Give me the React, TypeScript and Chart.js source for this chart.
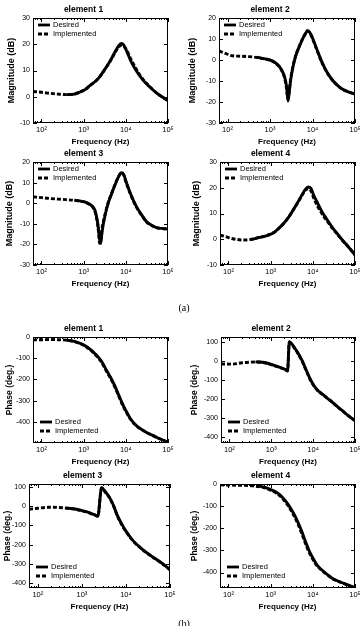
import React, { useEffect, useRef } from "react";
import { Chart, registerables } from "chart.js";

Chart.register(...registerables);

const SANS = "'Liberation Sans', Arial, Helvetica, sans-serif";
const SERIF = "'Liberation Serif', 'Times New Roman', serif";

// ---------- shared axis data ----------
const xTickValues = [100, 1000, 10000, 100000];
const xTickLabels = ["10²", "10³", "10⁴", "10⁵"];
const xMin = 63;
const xMax = 100000;
const legendLabels = ["Desired", "Implemented"];
const magLabel = "Magnitude (dB)";
const phaseLabel = "Phase (deg.)";
const freqLabel = "Frequency (Hz)";

// ---------- (a) magnitude, element 1 ----------
const freqMag1 = [63, 100, 160, 250, 400, 600, 820, 1100, 1400, 2000, 2450, 3200, 4200, 5300, 6600, 7900, 9000, 10500, 13000, 18000, 25000, 37000, 55000, 75000, 100000];
const magDesired1 = [null, null, null, null, 0.8, 1.0, 1.8, 2.8, 4.2, 6.2, 7.8, 10.5, 13.5, 16.5, 19.2, 20.3, 19.6, 17.3, 13.8, 9.7, 6.5, 3.7, 1.3, -0.2, -1.5];
const magImplemented1 = [2.0, 1.7, 1.3, 1.0, 0.8, 1.0, 1.8, 2.8, 4.2, 6.2, 7.8, 10.5, 13.3, 16.2, 18.8, 19.6, 19.2, 17.8, 14.5, 10.3, 6.8, 3.8, 1.3, -0.2, -1.5];
const yTicksMag1 = [-10, 0, 10, 20, 30];

// ---------- (a) magnitude, element 2 ----------
const freqMag2 = [63, 90, 130, 200, 320, 500, 790, 1100, 1350, 1650, 1950, 2200, 2450, 2650, 2850, 3070, 3500, 4000, 4800, 5750, 6700, 7550, 8600, 10000, 13000, 17000, 22000, 29000, 40000, 50000, 70000, 100000];
const magDesired2 = [null, null, null, null, null, 1.3, 0.5, -0.3, -1.4, -3.0, -5.4, -8.0, -12.5, -19.5, -15.0, -9.4, -3.0, 1.7, 6.0, 9.7, 12.3, 13.8, 13.2, 10.5, 4.5, -1.4, -5.8, -9.4, -12.3, -13.8, -15.2, -16.2];
const magImplemented2 = [4.3, 3.1, 2.0, 1.8, 1.6, 1.2, 0.4, -0.4, -1.5, -3.2, -5.6, -8.5, -13.5, -18.5, -14.0, -8.8, -2.6, 2.0, 6.2, 9.8, 12.4, 14.0, 13.0, 10.2, 4.2, -1.6, -6.0, -9.5, -12.4, -13.9, -15.2, -16.2];
const yTicksMag2 = [-30, -20, -10, 0, 10, 20];

// ---------- (a) magnitude, element 3 ----------
const freqMag3 = [63, 100, 155, 250, 390, 600, 800, 1100, 1400, 1650, 1850, 2100, 2250, 2400, 2550, 2700, 2900, 3300, 3800, 4600, 5500, 6600, 7800, 8900, 10200, 13000, 18000, 24000, 31000, 42000, 53000, 75000, 100000];
const magDesired3 = [null, null, null, null, null, 1.5, 1.1, 0.5, -0.5, -1.7, -3.4, -8.2, -12.5, -17.9, -19.5, -15.0, -10.6, -5.0, -0.2, 4.5, 8.7, 12.5, 14.8, 14.0, 10.3, 4.5, -1.8, -5.8, -9.0, -10.8, -11.8, -12.3, -12.5];
const magImplemented3 = [3.1, 2.7, 2.3, 2.0, 1.7, 1.4, 1.0, 0.4, -0.7, -2.0, -4.0, -9.0, -14.0, -19.5, -17.5, -13.0, -9.5, -4.5, 0.2, 4.8, 8.9, 12.6, 14.6, 13.7, 10.0, 4.2, -2.0, -6.0, -9.1, -10.9, -11.9, -12.3, -12.5];
const yTicksMag3 = [-30, -20, -10, 0, 10, 20];

// ---------- (a) magnitude, element 4 ----------
const freqMag4 = [63, 90, 120, 180, 250, 360, 510, 700, 900, 1200, 1550, 2000, 2700, 3600, 4700, 5700, 6600, 7800, 9000, 10500, 13000, 16600, 22000, 29000, 38000, 50000, 70000, 100000];
const magDesired4 = [null, null, null, null, null, -0.1, 0.6, 1.1, 1.6, 2.6, 4.2, 6.0, 8.7, 11.9, 15.2, 17.6, 19.3, 20.3, 19.8, 17.1, 14.0, 10.6, 7.5, 4.6, 2.2, -0.3, -3.0, -6.1];
const magImplemented4 = [1.6, 0.9, 0.3, -0.2, -0.3, 0.0, 0.6, 1.1, 1.8, 2.6, 4.2, 6.0, 8.7, 11.9, 15.0, 17.4, 19.0, 19.6, 18.8, 16.0, 12.8, 9.8, 7.0, 4.3, 2.0, -0.4, -3.0, -6.1];
const yTicksMag4 = [-10, 0, 10, 20, 30];

// ---------- (b) phase, element 1 ----------
const freqPh1 = [63, 100, 155, 250, 390, 660, 1140, 1950, 2700, 3400, 4400, 5500, 7000, 8800, 11000, 13000, 18000, 24000, 31000, 42000, 53000, 75000, 100000];
const phDesired1 = [null, null, null, null, -15, -23, -44, -83, -117, -153, -192, -231, -280, -325, -362, -387, -419, -437, -450, -463, -473, -486, -497];
const phImplemented1 = [-14, -13, -12, -13, -15, -24, -46, -86, -121, -158, -197, -236, -285, -330, -365, -389, -420, -437, -450, -463, -473, -486, -497];
const yTicksPh1 = [-400, -300, -200, -100, 0];

// ---------- (b) phase, element 2 ----------
const freqPh2 = [63, 115, 200, 300, 420, 730, 1250, 1800, 2200, 2450, 2700, 3200, 3800, 4600, 5500, 6300, 7250, 8500, 10500, 13000, 16600, 22000, 29000, 38000, 50000, 70000, 100000];
const phDesired2 = [null, null, null, null, -5, -10, -26, -38, -46, -52, 100, 85, 61, 32, 0, -30, -61, -95, -130, -155, -174, -196, -217, -239, -261, -288, -313];
const phImplemented2 = [-16, -17, -10, -7, -6, -11, -27, -39, -47, -53, 98, 82, 58, 29, -3, -33, -64, -98, -132, -157, -175, -197, -218, -240, -262, -288, -313];
const yTicksPh2 = [-400, -300, -200, -100, 0, 100];

// ---------- (b) phase, element 3 ----------
const freqPh3 = [63, 100, 175, 300, 430, 700, 1000, 1400, 1700, 2000, 2300, 2800, 3400, 4300, 5300, 6500, 8000, 9500, 12000, 15000, 20000, 27000, 40000, 60000, 80000, 100000];
const phDesired3 = [null, null, null, null, -9, -15, -23, -32, -40, -46, -52, 96, 75, 43, 0, -52, -92, -122, -155, -183, -210, -235, -263, -290, -312, -330];
const phImplemented3 = [-16, -11, -6, -7, -10, -16, -24, -33, -41, -47, -53, 94, 72, 40, -3, -56, -95, -124, -157, -184, -211, -236, -264, -291, -313, -330];
const yTicksPh3 = [-400, -300, -200, -100, 0, 100];

// ---------- (b) phase, element 4 ----------
const freqPh4 = [63, 120, 200, 300, 450, 620, 800, 1000, 1400, 1800, 2400, 3100, 3800, 4500, 5500, 6600, 8000, 9800, 12500, 17000, 23000, 30000, 45000, 63000, 100000];
const phDesired4 = [null, null, null, null, -9, -12, -18, -25, -38, -55, -83, -115, -145, -175, -215, -257, -297, -331, -365, -391, -412, -428, -443, -454, -469];
const phImplemented4 = [-4, -5, -6, -7, -10, -14, -20, -28, -42, -60, -89, -122, -153, -184, -225, -266, -305, -337, -369, -393, -413, -429, -444, -455, -469];
const yTicksPh4 = [-400, -300, -200, -100, 0];

// ---------- layout ----------
const YW = 34; // y-axis box width
const TITLE_H = 17; // title block height
const XH = 24; // x-axis box height

type PanelCfg = {
  title: string;
  yLabel: string;
  yLabelSize: number;
  freqs: number[];
  desired: (number | null)[];
  implemented: (number | null)[];
  yMin: number;
  yMax: number;
  yTicks: number[];
  frame: [number, number, number, number];
  labelGap: number;
  legend: "top" | "bottom";
};

const panels: PanelCfg[] = [
  { title: "element 1", yLabel: magLabel, yLabelSize: 9, freqs: freqMag1, desired: magDesired1, implemented: magImplemented1, yMin: -10, yMax: 30, yTicks: yTicksMag1, frame: [33, 18, 168, 123], labelGap: 21, legend: "top" },
  { title: "element 2", yLabel: magLabel, yLabelSize: 9, freqs: freqMag2, desired: magDesired2, implemented: magImplemented2, yMin: -30, yMax: 20, yTicks: yTicksMag2, frame: [219, 18, 355, 123], labelGap: 26, legend: "top" },
  { title: "element 3", yLabel: magLabel, yLabelSize: 9, freqs: freqMag3, desired: magDesired3, implemented: magImplemented3, yMin: -30, yMax: 20, yTicks: yTicksMag3, frame: [33, 162, 168, 265], labelGap: 23, legend: "top" },
  { title: "element 4", yLabel: magLabel, yLabelSize: 9, freqs: freqMag4, desired: magDesired4, implemented: magImplemented4, yMin: -10, yMax: 30, yTicks: yTicksMag4, frame: [220, 162, 355, 265], labelGap: 23, legend: "top" },
  { title: "element 1", yLabel: phaseLabel, yLabelSize: 8.5, freqs: freqPh1, desired: phDesired1, implemented: phImplemented1, yMin: -500, yMax: 0, yTicks: yTicksPh1, frame: [33, 337, 168, 443], labelGap: 23, legend: "bottom" },
  { title: "element 2", yLabel: phaseLabel, yLabelSize: 8.5, freqs: freqPh2, desired: phDesired2, implemented: phImplemented2, yMin: -430, yMax: 125, yTicks: yTicksPh2, frame: [221, 337, 355, 443], labelGap: 26, legend: "bottom" },
  { title: "element 3", yLabel: phaseLabel, yLabelSize: 8.5, freqs: freqPh3, desired: phDesired3, implemented: phImplemented3, yMin: -425, yMax: 115, yTicks: yTicksPh3, frame: [29, 484, 170, 588], labelGap: 21, legend: "bottom" },
  { title: "element 4", yLabel: phaseLabel, yLabelSize: 8.5, freqs: freqPh4, desired: phDesired4, implemented: phImplemented4, yMin: -470, yMax: 0, yTicks: yTicksPh4, frame: [220, 484, 355, 588], labelGap: 25, legend: "bottom" },
];

const framePlugin = {
  id: "frameLegend",
  afterDraw(chart: any, _args: any, opts: any) {
    const { ctx, chartArea: a, scales } = chart;
    const xs = scales.x;
    const ys = scales.y;
    ctx.save();
    ctx.strokeStyle = "#000";
    ctx.lineWidth = 1;
    ctx.setLineDash([]);
    ctx.strokeRect(a.left + 0.5, a.top + 0.5, a.right - a.left - 1, a.bottom - a.top - 1);
    ctx.beginPath();
    for (let k = 1; k <= 5; k++) {
      for (let m = 1; m <= 9; m++) {
        const v = m * Math.pow(10, k);
        if (v < xs.min || v > xs.max) continue;
        const px = Math.round(xs.getPixelForValue(v)) + 0.5;
        const len = m === 1 ? 4 : 2;
        ctx.moveTo(px, a.bottom);
        ctx.lineTo(px, a.bottom - len);
        ctx.moveTo(px, a.top);
        ctx.lineTo(px, a.top + len);
      }
    }
    (opts.yTicks || []).forEach((v: number) => {
      const py = Math.round(ys.getPixelForValue(v)) + 0.5;
      ctx.moveTo(a.left, py);
      ctx.lineTo(a.left + 4, py);
      ctx.moveTo(a.right, py);
      ctx.lineTo(a.right - 4, py);
    });
    ctx.stroke();

    // legend
    const top = opts.legend === "top";
    const x0 = a.left + (top ? 5 : 7);
    const rows = top ? [a.top + 7, a.top + 16] : [a.bottom - 21, a.bottom - 12];
    ctx.font = `7.5px ${SANS}`;
    ctx.fillStyle = "#000";
    ctx.textBaseline = "middle";
    ctx.textAlign = "left";
    rows.forEach((ry: number, i: number) => {
      ctx.beginPath();
      ctx.lineWidth = 2.8;
      ctx.setLineDash(i === 0 ? [] : [4, 2]);
      ctx.moveTo(x0, ry);
      ctx.lineTo(x0 + 12, ry);
      ctx.stroke();
      ctx.setLineDash([]);
      ctx.fillText(legendLabels[i], x0 + 15, ry);
    });
    ctx.restore();
  },
};

function Panel({ p }: { p: PanelCfg }) {
  const ref = useRef<HTMLCanvasElement>(null);
  const [L, T, R, B] = p.frame;
  const width = YW * 2 + (R - L);
  const height = TITLE_H + (B - T) + XH;

  useEffect(() => {
    const toPts = (ys: (number | null)[]) => p.freqs.map((f, i) => ({ x: f, y: ys[i] }));
    const chart = new Chart(ref.current as HTMLCanvasElement, {
      type: "line",
      data: {
        datasets: [
          {
            label: legendLabels[0],
            data: toPts(p.desired) as any,
            borderColor: "#000",
            borderWidth: 2.9,
            pointRadius: 0,
            cubicInterpolationMode: "monotone",
            spanGaps: false,
          },
          {
            label: legendLabels[1],
            data: toPts(p.implemented) as any,
            borderColor: "#000",
            borderWidth: 2.9,
            borderDash: [4, 2],
            pointRadius: 0,
            cubicInterpolationMode: "monotone",
          },
        ],
      },
      options: {
        animation: false,
        responsive: false,
        devicePixelRatio: 1,
        layout: { padding: { left: 0, right: YW, top: 0, bottom: 0 } },
        plugins: {
          legend: { display: false },
          tooltip: { enabled: false },
          title: {
            display: true,
            text: p.title,
            color: "#000",
            font: { family: SANS, size: 8.5, weight: "bold", lineHeight: "12px" } as any,
            padding: { top: 3, bottom: 2 },
          },
          frameLegend: { yTicks: p.yTicks, legend: p.legend },
        } as any,
        scales: {
          x: {
            type: "logarithmic",
            min: xMin,
            max: xMax,
            grid: { display: false, drawTicks: false },
            border: { display: false },
            afterBuildTicks: (s: any) => {
              s.ticks = xTickValues.map((v) => ({ value: v }));
            },
            afterFit: (s: any) => {
              s.height = XH;
            },
            ticks: {
              autoSkip: false,
              maxRotation: 0,
              padding: 3,
              color: "#000",
              font: { family: SANS, size: 7.5, lineHeight: "8px" } as any,
              callback: (v: any) => {
                const i = xTickValues.indexOf(Number(v));
                return i >= 0 ? xTickLabels[i] : "";
              },
            },
            title: {
              display: true,
              text: freqLabel,
              color: "#000",
              font: { family: SANS, size: 8, weight: "bold", lineHeight: "10px" } as any,
              padding: { top: 0, bottom: 0 },
            },
          },
          y: {
            type: "linear",
            min: p.yMin,
            max: p.yMax,
            grid: { display: false, drawTicks: false },
            border: { display: false },
            afterBuildTicks: (s: any) => {
              s.ticks = p.yTicks.map((v) => ({ value: v }));
            },
            afterFit: (s: any) => {
              s.width = YW;
            },
            ticks: {
              autoSkip: false,
              padding: 3,
              color: "#000",
              font: { family: SANS, size: 7 } as any,
              callback: (v: any) => String(v),
            },
            title: {
              display: true,
              text: p.yLabel,
              color: "#000",
              font: { family: SANS, size: p.yLabelSize, weight: "bold", lineHeight: "11px" } as any,
              padding: { top: Math.max(0, YW - p.labelGap - 5.5), bottom: 0 },
            },
          },
        },
      },
      plugins: [framePlugin as any],
    });
    return () => chart.destroy();
  }, []);

  return (
    <div style={{ position: "absolute", left: L - YW, top: T - TITLE_H, width, height }}>
      <canvas ref={ref} width={width} height={height} style={{ width, height, display: "block" }} />
    </div>
  );
}

export default function App() {
  return (
    <div style={{ position: "absolute", left: 0, top: 0, width: 363, height: 626, overflow: "hidden", background: "#fff" }}>
      {panels.map((p, i) => (
        <Panel key={i} p={p} />
      ))}
      <div style={{ position: "absolute", left: 172, top: 302, width: 24, textAlign: "center", font: `10px ${SERIF}`, lineHeight: "12px" }}>(a)</div>
      <div style={{ position: "absolute", left: 172, top: 618, width: 24, textAlign: "center", font: `10px ${SERIF}`, lineHeight: "12px" }}>(b)</div>
    </div>
  );
}
